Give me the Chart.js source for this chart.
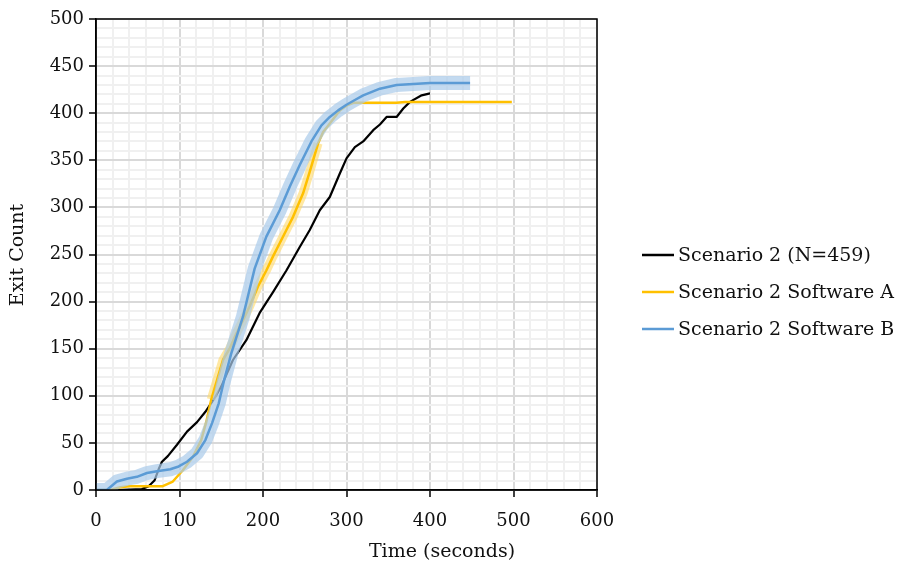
<!DOCTYPE html>
<html>
<head>
<meta charset="utf-8">
<script src="https://cdn.jsdelivr.net/npm/chart.js@4/dist/chart.umd.min.js"></script>
<style>
  html, body { margin: 0; padding: 0; background: #fff; }
  #wrap { width: 899px; height: 565px; }
</style>
</head>
<body>
<div id="wrap"><canvas id="c" width="899" height="565"></canvas></div>
<script>
// Exit curves: time in seconds vs. cumulative number of people out
const timeObserved = [0, 25, 55, 63, 70, 75, 79, 86, 97, 109, 121, 131, 143, 150, 164, 180, 196, 212, 228, 244, 256, 268, 280, 292, 300, 310, 320, 332, 340, 348, 360, 368, 376, 390, 400];
const exitObserved = [0, 0, 1, 4, 10, 22, 30, 36, 48, 62, 72, 83, 99, 110, 138, 159, 188, 210, 233, 258, 276, 297, 311, 336, 352, 364, 370, 382, 388, 396, 396, 405, 412, 419, 421];

const timeSoftwareA = [0, 17, 29, 40, 80, 92, 104, 116, 126, 132, 138, 145, 152, 160, 168, 176, 184, 194, 204, 212, 220, 228, 236, 248, 256, 266, 272, 280, 292, 300, 308, 360, 370, 498];
const exitSoftwareA = [0, 0, 3, 4, 4, 9, 21, 35, 53, 72, 96, 117, 138, 150, 166, 180, 195, 216, 233, 248, 262, 276, 290, 315, 338, 368, 380, 389, 403, 408, 411, 411, 412, 412];

const timeSoftwareB = [0, 13, 25, 37, 49, 61, 73, 89, 99, 109, 121, 131, 139, 147, 153, 162, 176, 190, 204, 220, 232, 244, 258, 270, 280, 290, 300, 310, 320, 340, 360, 380, 400, 448];
const exitSoftwareB = [0, 0, 9, 12, 14, 18, 20, 22, 25, 30, 39, 53, 71, 92, 115, 145, 184, 235, 269, 297, 322, 345, 370, 387, 396, 403, 409, 414, 419, 426, 430, 431, 432, 432];

const seriesLabels = ['Scenario 2 (N=459)', 'Scenario 2 Software A', 'Scenario 2 Software B'];
const xTicks = [0, 100, 200, 300, 400, 500, 600];
const yTicks = [0, 50, 100, 150, 200, 250, 300, 350, 400, 450, 500];

const toPoints = (xs, ys) => xs.map((x, i) => ({ x: x, y: ys[i] }));
// run range over which Software A shows a spread between replications
const bandA = toPoints(timeSoftwareA, exitSoftwareA).filter(p => p.x >= 138 && p.x <= 266);

const FONT = 'DejaVu Serif';
const colors = { observed: '#000000', a: '#FFC000', b: '#5B9BD5' };

const overlay = {
  id: 'overlay',
  afterDraw(chart) {
    const { ctx, chartArea: a } = chart;
    ctx.save();
    // plot frame
    ctx.strokeStyle = '#000';
    ctx.lineWidth = 1.5;
    ctx.strokeRect(a.left, a.top, a.right - a.left, a.bottom - a.top);
    // axis titles
    ctx.fillStyle = '#111';
    ctx.font = '19px "' + FONT + '"';
    ctx.textAlign = 'center';
    ctx.textBaseline = 'middle';
    ctx.fillText('Time (seconds)', 442, 552);
    ctx.save();
    ctx.translate(18, 255);
    ctx.rotate(-Math.PI / 2);
    ctx.fillText('Exit Count', 0, 0);
    ctx.restore();
    // legend
    const rows = [255, 292, 329];
    const cols = [colors.observed, colors.a, colors.b];
    ctx.textAlign = 'left';
    rows.forEach((y, i) => {
      ctx.strokeStyle = cols[i];
      ctx.lineWidth = 2.5;
      ctx.beginPath();
      ctx.moveTo(642, y);
      ctx.lineTo(674, y);
      ctx.stroke();
      ctx.fillStyle = '#111';
      ctx.fillText(seriesLabels[i], 678, y + 1);
    });
    ctx.restore();
  }
};

new Chart(document.getElementById('c'), {
  type: 'line',
  data: {
    datasets: [
      { label: seriesLabels[2], data: toPoints(timeSoftwareB, exitSoftwareB), borderColor: colors.b, borderWidth: 2.5 },
      { label: 'B range', data: toPoints(timeSoftwareB, exitSoftwareB), borderColor: 'rgba(170,203,234,0.7)', borderWidth: 14 },
      { label: seriesLabels[1], data: toPoints(timeSoftwareA, exitSoftwareA), borderColor: colors.a, borderWidth: 2.5 },
      { label: 'A range', data: bandA, borderColor: 'rgba(255,217,102,0.6)', borderWidth: 9 },
      { label: seriesLabels[0], data: toPoints(timeObserved, exitObserved), borderColor: colors.observed, borderWidth: 2.2 }
    ]
  },
  options: {
    responsive: false,
    animation: false,
    events: [],
    elements: {
      point: { radius: 0 },
      line: { tension: 0, fill: false, borderCapStyle: 'butt', borderJoinStyle: 'round' }
    },
    layout: { padding: { left: 0, top: 19, right: 302, bottom: 0 } },
    plugins: { legend: { display: false }, tooltip: { enabled: false } },
    scales: {
      x: {
        type: 'linear', min: 0, max: 600,
        afterFit(s) { s.height = 75; },
        afterBuildTicks(s) { s.ticks = Array.from({ length: 31 }, (_, i) => ({ value: i * 20 })); },
        ticks: {
          autoSkip: false, maxRotation: 0, padding: 14, color: '#111',
          font: { family: FONT, size: 18 },
          callback: v => xTicks.includes(v) ? String(v) : ''
        },
        grid: {
          lineWidth: 2,
          color: c => (c.tick && c.tick.value % 100 === 0) ? '#d9d9d9' : '#f0f0f0',
          tickColor: c => (c.tick && c.tick.value % 100 === 0) ? '#000' : 'rgba(0,0,0,0)',
          tickLength: 7, tickWidth: 1.5
        },
        border: { color: '#000', width: 1.5 }
      },
      y: {
        type: 'linear', min: 0, max: 500,
        afterFit(s) { s.width = 96; },
        afterBuildTicks(s) { s.ticks = Array.from({ length: 51 }, (_, i) => ({ value: i * 10 })); },
        ticks: {
          autoSkip: false, padding: 5, color: '#111',
          font: { family: FONT, size: 18 },
          callback: v => yTicks.includes(v) ? String(v) : ''
        },
        grid: {
          lineWidth: 2,
          color: c => (c.tick && c.tick.value % 50 === 0) ? '#d9d9d9' : '#f0f0f0',
          tickColor: c => (c.tick && c.tick.value % 50 === 0) ? '#000' : 'rgba(0,0,0,0)',
          tickLength: 7, tickWidth: 1.5
        },
        border: { color: '#000', width: 1.5 }
      }
    }
  },
  plugins: [overlay]
});
</script>
</body>
</html>
